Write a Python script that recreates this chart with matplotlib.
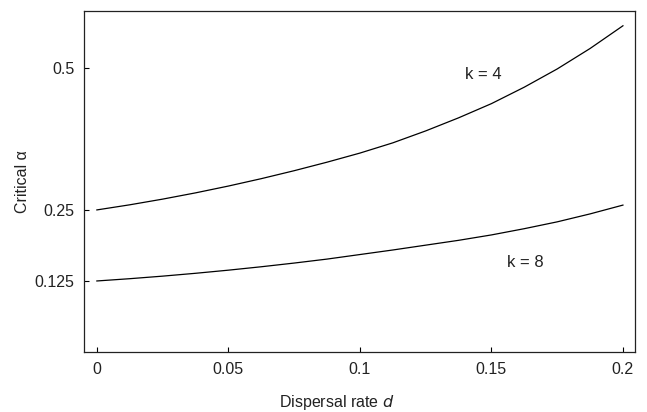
import numpy as np
import matplotlib
matplotlib.use('Agg')
import matplotlib.pyplot as plt

plt.rcParams['font.family'] = ['Liberation Sans', 'DejaVu Sans']

# dispersal rate d
d = [0, 0.0125, 0.025, 0.0375, 0.05, 0.0625, 0.075, 0.0875, 0.1,
     0.1125, 0.125, 0.1375, 0.15, 0.1625, 0.175, 0.1875, 0.2]
# critical alpha, k = 4
alpha_k4 = [0.250, 0.259, 0.269, 0.280, 0.292, 0.305, 0.319, 0.334, 0.350,
            0.368, 0.389, 0.412, 0.437, 0.466, 0.498, 0.534, 0.574]
# critical alpha, k = 8
alpha_k8 = [0.125, 0.129, 0.1335, 0.1385, 0.144, 0.150, 0.1565, 0.1635, 0.1715,
            0.1795, 0.188, 0.1965, 0.206, 0.217, 0.229, 0.243, 0.2585]

x_ticks = [0, 0.05, 0.1, 0.15, 0.2]
x_ticklabels = ['0', '0.05', '0.1', '0.15', '0.2']
y_ticks = [0.125, 0.25, 0.5]
y_ticklabels = ['0.125', '0.25', '0.5']

fig = plt.figure(figsize=(6.47, 4.12), dpi=100)
ax = fig.add_axes([0.1298, 0.1456, 0.8517, 0.8277])

ax.plot(d, alpha_k4, color='black', linewidth=0.9)
ax.plot(d, alpha_k8, color='black', linewidth=0.9)

ax.text(0.1468, 0.489, 'k = 4', fontsize=12, ha='center', va='center', color='#222222')
ax.text(0.1627, 0.157, 'k = 8', fontsize=12, ha='center', va='center', color='#222222')

ax.set_xlim(-0.0049, 0.2046)
ax.set_ylim(0, 0.6)
ax.set_xticks(x_ticks)
ax.set_xticklabels(x_ticklabels)
ax.set_yticks(y_ticks)
ax.set_yticklabels(y_ticklabels)
ax.tick_params(direction='in', length=3.5, width=0.8, labelsize=11.5, pad=7,
               labelcolor='#222222')

for s in ax.spines.values():
    s.set_linewidth(0.9)
    s.set_color('#222222')

ax.set_xlabel('Dispersal rate $\\it{d}$', fontsize=11.5, color='#222222')
ax.xaxis.set_label_coords(0.459, -0.12)
ax.set_ylabel('Critical \u03b1', fontsize=11.5, labelpad=3, color='#222222')

fig.savefig('out.png', dpi=100)
